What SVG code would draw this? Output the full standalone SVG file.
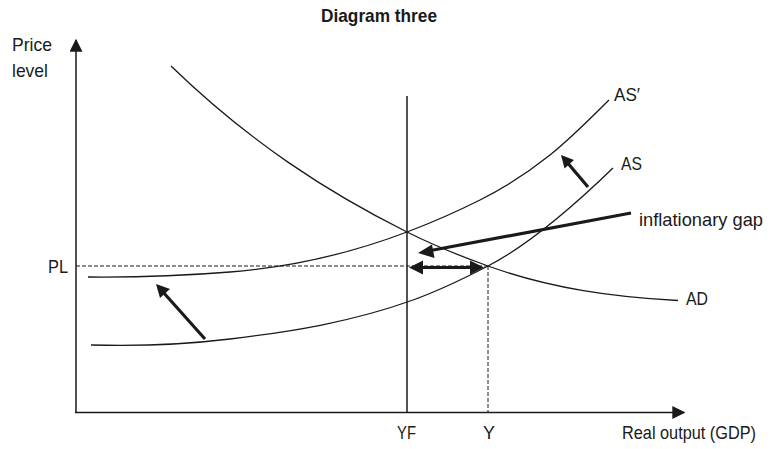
<svg xmlns="http://www.w3.org/2000/svg" width="775" height="449" viewBox="0 0 775 449">
<style>
text{font-family:"Liberation Sans Narrow","Liberation Sans",Arial,sans-serif;fill:#1a1a1a;font-size:18.5px}
.title{font-weight:bold;font-size:19px}
.curve{fill:none;stroke:#1a1a1a;stroke-width:1.3}
.axis{fill:none;stroke:#1a1a1a;stroke-width:1.5}
.dash{fill:none;stroke:#1a1a1a;stroke-width:1;stroke-dasharray:4 2}
.bold{fill:none;stroke:#1a1a1a;stroke-width:3.2}
</style>
<defs>
<marker id="axh" viewBox="0 0 10 10" refX="9" refY="5" markerWidth="13" markerHeight="13" markerUnits="userSpaceOnUse" orient="auto"><path d="M0,0 L10,5 L0,10 z" fill="#1a1a1a"/></marker>
</defs>
<text id="title" class="title" x="321" y="22" textLength="116" lengthAdjust="spacingAndGlyphs">Diagram three</text>
<g id="axes">
<line class="axis" x1="76" y1="413" x2="76" y2="40" marker-end="url(#axh)"/>
<line class="axis" x1="75" y1="412.5" x2="684" y2="412.5" marker-end="url(#axh)"/>
<text x="12" y="51" textLength="40" lengthAdjust="spacingAndGlyphs">Price</text>
<text x="12" y="77" textLength="36" lengthAdjust="spacingAndGlyphs">level</text>
<text x="622" y="439" textLength="134" lengthAdjust="spacingAndGlyphs">Real output (GDP)</text>
</g>
<g id="guides">
<line class="axis" x1="407" y1="96" x2="407" y2="412" stroke-width="1.2"/>
<line class="dash" x1="488" y1="266" x2="488" y2="412"/>
<line class="dash" x1="76" y1="266" x2="488" y2="266"/>
<text x="48" y="273" textLength="20" lengthAdjust="spacingAndGlyphs">PL</text>
<text x="397" y="439" textLength="19" lengthAdjust="spacingAndGlyphs">YF</text>
<text x="483" y="439" textLength="12" lengthAdjust="spacingAndGlyphs">Y</text>
</g>
<g id="AD">
<path class="curve" d="M171,66 C249.7,142.3 328.3,192.7 407,232 C434,245.5 461,256.3 488,266 C550.3,288.4 612.7,297 678,300.5"/>
<text x="686" y="305" textLength="22" lengthAdjust="spacingAndGlyphs">AD</text>
</g>
<g id="AS">
<path class="curve" d="M91,345 C137.3,346.4 183.7,344.6 230,339 C291,331.7 352,322 413,300 C438,291 463,279 488,266 C529.7,244.3 571.3,208.4 613,168"/>
<text x="621" y="170" textLength="21" lengthAdjust="spacingAndGlyphs">AS</text>
</g>
<g id="ASprime">
<path class="curve" d="M88,277 C135.3,277.5 182.7,275.8 230,272 C289,267.3 348,254.4 407,232 C431.3,222.8 455.7,212.2 480,200 C503.3,188.3 526.7,173.6 550,155 C569.7,139.2 589.3,119.7 609,100"/>
<text x="614" y="101" textLength="26" lengthAdjust="spacingAndGlyphs">AS′</text>
</g>
<g id="gap">
<text x="639" y="226" textLength="124" lengthAdjust="spacingAndGlyphs">inflationary gap</text>
</g>
<g id="connectors">
<line class="bold" x1="631" y1="213" x2="428" y2="251"/>
<path d="M418,253 L432,244.5 L434.5,258 z" fill="#1a1a1a"/>
<line class="bold" x1="420" y1="267.5" x2="473" y2="267.5" stroke-width="3.5"/>
<path d="M409,267.5 L423,260.5 L423,274.5 z" fill="#1a1a1a"/>
<path d="M484,267.5 L470,260.5 L470,274.5 z" fill="#1a1a1a"/>
<line class="bold" x1="205" y1="339" x2="163" y2="292"/>
<path d="M156,284 L170,289 L160,298 z" fill="#1a1a1a"/>
<line class="bold" x1="588" y1="187" x2="566" y2="161"/>
<path d="M561,155 L574,160 L564.5,168.5 z" fill="#1a1a1a"/>
</g>
</svg>
